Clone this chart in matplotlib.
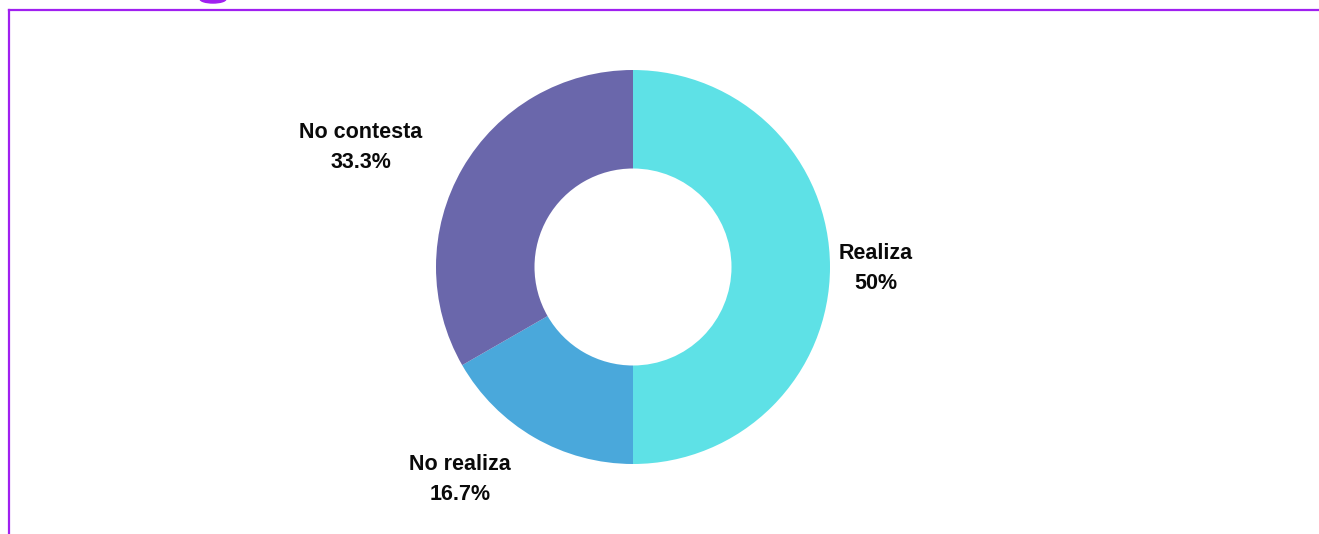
import matplotlib.pyplot as plt
from matplotlib.lines import Line2D
from matplotlib.patches import Ellipse

# data
categories = ['Realiza', 'No realiza', 'No contesta']
values = [50, 16.7, 33.3]
pct_labels = ['50%', '16.7%', '33.3%']
colors = ['#5ee1e6', '#4aa8db', '#6a67ab']

# label positions (pixels, from top-left)
label_pos = [(876, 268.5), (460, 479.5), (361, 147.5)]

W, H = 1319, 534
fig = plt.figure(figsize=(W / 100, H / 100), dpi=100)
ax = fig.add_axes([0, 0, 1, 1])

cx, cy, r = 633, 267, 197
wedges, _ = ax.pie(values, colors=colors, startangle=90, counterclock=False,
                   center=(cx, H - cy), radius=r,
                   wedgeprops=dict(width=r - 98.5, linewidth=0))

for cat, pct, (x, y) in zip(categories, pct_labels, label_pos):
    ax.text(x, H - y, cat + '\n' + pct, ha='center', va='center',
            fontsize=15.5, fontweight='bold', family='Liberation Sans',
            color='#0a0a0a', linespacing=1.58)

ax.set_xlim(0, W)
ax.set_ylim(0, H)
ax.set_aspect('auto')
ax.axis('off')

# frame lines and cut-off title glyph
purple = '#a020f0'
ax.add_line(Line2D([9, W], [H - 9.5, H - 9.5], color=purple, lw=1.6))
ax.add_line(Line2D([9, 9], [H - 9.5, 0], color=purple, lw=1.6))
ax.add_patch(Ellipse((213, H + 1), 26, 8, color=purple, clip_on=True))

fig.savefig('out.png', dpi=100)
